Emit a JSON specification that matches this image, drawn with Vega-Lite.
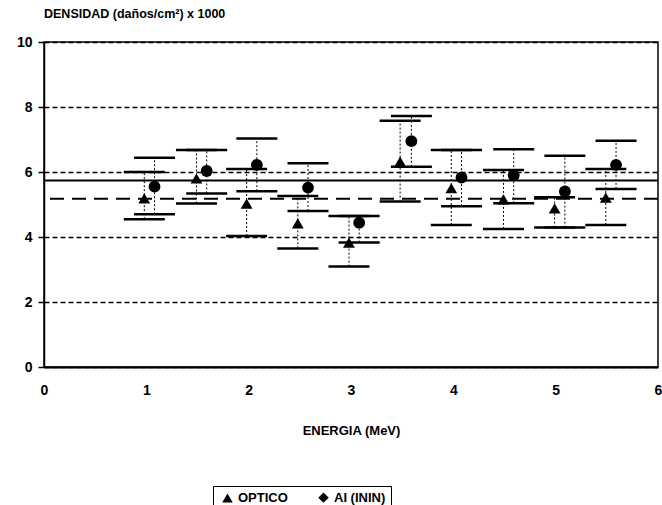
{
  "$schema": "https://vega.github.io/schema/vega-lite/v6.json",
  "width": 614,
  "height": 325,
  "autosize": "none",
  "padding": {"left": 44, "top": 42, "right": 4, "bottom": 138},
  "background": "white",
  "config": {
    "font": "Liberation Sans",
    "view": {"stroke": "black", "strokeWidth": 1.5}
  },
  "title": {
    "text": "DENSIDAD (daños/cm²) x 1000",
    "anchor": "start",
    "frame": "group",
    "fontSize": 12.5,
    "fontWeight": "bold",
    "color": "black",
    "offset": 15
  },
  "datasets": {
    "pts": [
      {"serie": "OPTICO", "e": 0.98, "d": 5.19, "lo": 4.55, "hi": 6.0},
      {"serie": "OPTICO", "e": 1.49, "d": 5.8, "lo": 5.03, "hi": 6.68},
      {"serie": "OPTICO", "e": 1.98, "d": 5.03, "lo": 4.03, "hi": 6.09},
      {"serie": "OPTICO", "e": 2.48, "d": 4.42, "lo": 3.65, "hi": 5.26},
      {"serie": "OPTICO", "e": 2.98, "d": 3.83, "lo": 3.09, "hi": 4.65},
      {"serie": "OPTICO", "e": 3.48, "d": 6.32, "lo": 5.09, "hi": 7.58},
      {"serie": "OPTICO", "e": 3.98, "d": 5.5, "lo": 4.37, "hi": 6.68},
      {"serie": "OPTICO", "e": 4.49, "d": 5.16, "lo": 4.25, "hi": 6.06},
      {"serie": "OPTICO", "e": 4.99, "d": 4.88, "lo": 4.29, "hi": 5.22},
      {"serie": "OPTICO", "e": 5.49, "d": 5.21, "lo": 4.37, "hi": 6.09},
      {"serie": "AI (ININ)", "e": 1.08, "d": 5.55, "lo": 4.7, "hi": 6.44},
      {"serie": "AI (ININ)", "e": 1.59, "d": 6.03, "lo": 5.34, "hi": 6.68},
      {"serie": "AI (ININ)", "e": 2.08, "d": 6.22, "lo": 5.41, "hi": 7.03},
      {"serie": "AI (ININ)", "e": 2.58, "d": 5.52, "lo": 4.8, "hi": 6.27},
      {"serie": "AI (ININ)", "e": 3.08, "d": 4.44, "lo": 3.83, "hi": 4.65},
      {"serie": "AI (ININ)", "e": 3.59, "d": 6.95, "lo": 6.16, "hi": 7.72},
      {"serie": "AI (ININ)", "e": 4.08, "d": 5.83, "lo": 4.95, "hi": 6.68},
      {"serie": "AI (ININ)", "e": 4.59, "d": 5.9, "lo": 5.04, "hi": 6.7},
      {"serie": "AI (ININ)", "e": 5.09, "d": 5.4, "lo": 4.29, "hi": 6.5},
      {"serie": "AI (ININ)", "e": 5.59, "d": 6.22, "lo": 5.48, "hi": 6.96}
    ],
    "medias": [
      {"serie": "OPTICO", "media": 5.18},
      {"serie": "AI (ININ)", "media": 5.74}
    ]
  },
  "layer": [
    {
      "data": {"name": "pts"},
      "mark": {"type": "rule", "color": "black", "strokeWidth": 1, "strokeDash": [2, 2]},
      "encoding": {
        "x": {
          "field": "e", "type": "quantitative",
          "scale": {"domain": [0, 6], "nice": false, "zero": false},
          "axis": {
            "title": "ENERGIA (MeV)",
            "values": [0, 1, 2, 3, 4, 5, 6],
            "format": "d",
            "grid": false,
            "ticks": false,
            "labelPadding": 16,
            "labelFontSize": 14,
            "labelFontWeight": "bold",
            "labelColor": "black",
            "labelFlush": false,
            "domainColor": "black",
            "domainWidth": 2,
            "titleFontSize": 13,
            "titleFontWeight": "bold",
            "titleColor": "black",
            "titlePadding": 27
          }
        },
        "y": {
          "field": "lo", "type": "quantitative",
          "scale": {"domain": [0, 10], "nice": false},
          "axis": {
            "title": null,
            "values": [0, 2, 4, 6, 8, 10],
            "grid": true,
            "gridColor": "black",
            "gridDash": [5, 3],
            "gridWidth": 1.5,
            "gridOpacity": 1,
            "tickSize": 6,
            "tickColor": "black",
            "tickWidth": 1.5,
            "labelPadding": 6,
            "labelFontSize": 14,
            "labelFontWeight": "bold",
            "labelColor": "black",
            "labelFlush": false,
            "domainColor": "black",
            "domainWidth": 1.5
          }
        },
        "y2": {"field": "hi"}
      }
    },
    {
      "data": {"name": "pts"},
      "mark": {"type": "tick", "orient": "horizontal", "size": 41, "thickness": 2.5, "color": "black", "opacity": 1},
      "encoding": {
        "x": {"field": "e", "type": "quantitative"},
        "y": {"field": "lo", "type": "quantitative"}
      }
    },
    {
      "data": {"name": "pts"},
      "mark": {"type": "tick", "orient": "horizontal", "size": 41, "thickness": 2.5, "color": "black", "opacity": 1},
      "encoding": {
        "x": {"field": "e", "type": "quantitative"},
        "y": {"field": "hi", "type": "quantitative"}
      }
    },
    {
      "data": {"name": "medias"},
      "mark": {"type": "rule", "color": "black", "strokeWidth": 2},
      "encoding": {
        "y": {"field": "media", "type": "quantitative"},
        "strokeDash": {
          "field": "serie", "type": "nominal",
          "scale": {"domain": ["OPTICO", "AI (ININ)"], "range": [[14, 8], [1, 0]]},
          "legend": null
        }
      }
    },
    {
      "data": {"name": "pts"},
      "mark": {"type": "point", "filled": true, "color": "black", "size": 40, "opacity": 1},
      "encoding": {
        "x": {"field": "e", "type": "quantitative"},
        "y": {"field": "d", "type": "quantitative"},
        "shape": {
          "field": "serie", "type": "nominal",
          "scale": {"domain": ["OPTICO", "AI (ININ)"], "range": ["triangle-up", "diamond"]},
          "legend": {
            "title": null,
            "orient": "none",
            "legendX": 169,
            "legendY": 444,
            "direction": "horizontal",
            "symbolSize": 110,
            "symbolFillColor": "black",
            "symbolStrokeColor": "black",
            "labelFontSize": 13,
            "labelFontWeight": "bold",
            "labelColor": "black",
            "strokeColor": "black",
            "padding": 5,
            "columnPadding": 26,
            "symbolOffset": 3
          }
        }
      }
    },
    {
      "data": {"name": "pts"},
      "mark": {"type": "point", "filled": true, "color": "black", "size": 140, "opacity": 1},
      "encoding": {
        "x": {"field": "e", "type": "quantitative"},
        "y": {"field": "d", "type": "quantitative"},
        "shape": {
          "field": "serie", "type": "nominal",
          "scale": {"domain": ["OPTICO", "AI (ININ)"], "range": ["triangle-up", "circle"]},
          "legend": null
        }
      }
    }
  ],
  "resolve": {"scale": {"shape": "independent", "strokeDash": "independent"}}
}
